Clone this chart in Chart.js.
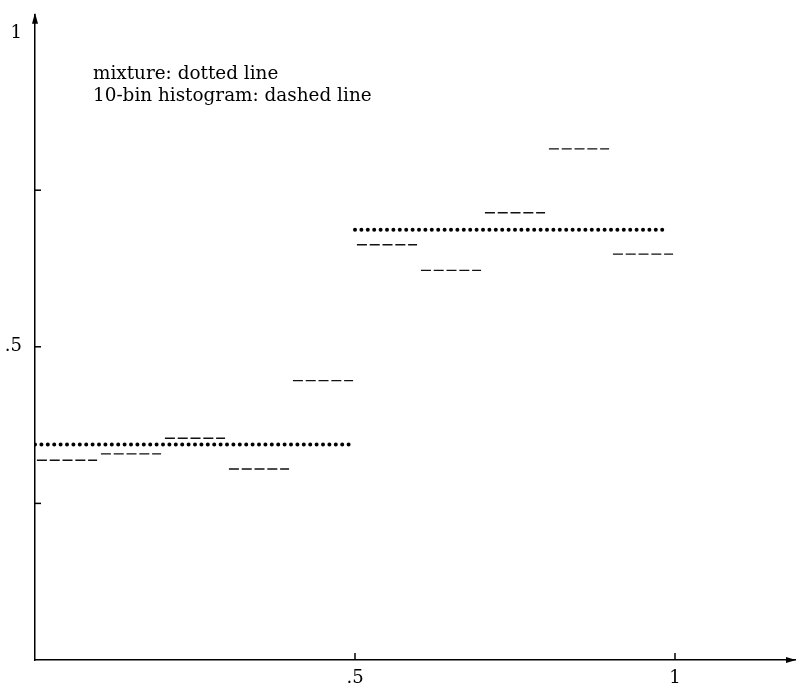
<!DOCTYPE html>
<html>
<head>
<meta charset="utf-8">
<script src="https://cdn.jsdelivr.net/npm/chart.js@4"></script>
<style>
  html, body { margin: 0; padding: 0; background: #fff; }
  #wrap { width: 797px; height: 688px; }
</style>
</head>
<body>
<div id="wrap"><canvas id="chart" width="797" height="688"></canvas></div>
<script>
// histogram bins (10 bins over 0..1) and their heights
const binEdges = [0, 0.1, 0.2, 0.3, 0.4, 0.5, 0.6, 0.7, 0.8, 0.9, 1.0];
const histValues = [0.319, 0.329, 0.354, 0.305, 0.446, 0.663, 0.622, 0.714, 0.816, 0.648];
// mixture density: two flat pieces [from, to, value]
const mixtureFrom = [0, 0.5];
const mixtureTo = [0.495, 0.985];
const mixtureValues = [0.344, 0.687];
const yTickValues = [0.25, 0.5, 0.75, 1];
const yTickLabels = { 0.5: '.5', 1: '1' };
const xTickValues = [0.5, 1];
const xTickLabels = { 0.5: '.5', 1: '1' };
const legendLines = ['mixture: dotted line', '10-bin histogram: dashed line'];

const FONT = '"DejaVu Serif", "Liberation Serif", serif';

const histData = [];
histValues.forEach((v, i) => {
  histData.push({ x: binEdges[i] + 0.003, y: v });
  histData.push({ x: binEdges[i + 1] - 0.003, y: v });
  histData.push({ x: binEdges[i + 1], y: null });
});

const mixData = [];
mixtureValues.forEach((v, i) => {
  mixData.push({ x: mixtureFrom[i], y: v });
  mixData.push({ x: mixtureTo[i], y: v });
  mixData.push({ x: mixtureTo[i] + 0.002, y: null });
});

const axisDecor = {
  id: 'axisDecor',
  afterDraw(chart) {
    const { ctx, chartArea, scales } = chart;
    const x0 = chartArea.left, y0 = chartArea.bottom;
    ctx.save();
    ctx.strokeStyle = '#000';
    ctx.fillStyle = '#000';
    ctx.lineWidth = 1.5;
    // tick marks inside the plot
    yTickValues.forEach(v => {
      if (v >= 1) return;
      const y = scales.y.getPixelForValue(v);
      ctx.beginPath();
      ctx.moveTo(x0, y);
      ctx.lineTo(x0 + 6, y);
      ctx.stroke();
    });
    xTickValues.forEach(v => {
      const x = scales.x.getPixelForValue(v);
      ctx.beginPath();
      ctx.moveTo(x, y0);
      ctx.lineTo(x, y0 - 7);
      ctx.stroke();
    });
    // arrow heads
    ctx.beginPath();
    ctx.moveTo(x0, chartArea.top - 2);
    ctx.lineTo(x0 - 3, chartArea.top + 9);
    ctx.lineTo(x0 + 3, chartArea.top + 9);
    ctx.closePath();
    ctx.fill();
    ctx.beginPath();
    ctx.moveTo(chartArea.right + 1, y0);
    ctx.lineTo(chartArea.right - 9, y0 - 3);
    ctx.lineTo(chartArea.right - 9, y0 + 3);
    ctx.closePath();
    ctx.fill();
    // legend text
    ctx.font = '18.4px ' + FONT;
    ctx.textBaseline = 'alphabetic';
    ctx.textAlign = 'left';
    legendLines.forEach((t, i) => ctx.fillText(t, 93, 79 + i * 22));
    ctx.restore();
  }
};

new Chart(document.getElementById('chart'), {
  type: 'line',
  data: {
    datasets: [
      {
        label: 'mixture',
        data: mixData,
        borderColor: '#000',
        borderWidth: 4,
        borderDash: [0, 6.4],
        borderCapStyle: 'round',
        pointRadius: 0,
        spanGaps: false,
        tension: 0,
      },
      {
        label: '10-bin histogram',
        data: histData,
        borderColor: '#111',
        borderWidth: 1.4,
        borderDash: [10, 2.8],
        pointRadius: 0,
        spanGaps: false,
        tension: 0,
      },
    ],
  },
  options: {
    responsive: false,
    animation: false,
    layout: { padding: { top: 11, right: 2, left: 0, bottom: 0 } },
    plugins: { legend: { display: false }, tooltip: { enabled: false } },
    scales: {
      x: {
        type: 'linear',
        min: 0,
        max: 1.1875,
        afterBuildTicks: s => { s.ticks = xTickValues.map(v => ({ value: v })); },
        afterFit: s => { s.height = 28; },
        grid: { display: false, drawTicks: false },
        border: { color: '#000', width: 1.5 },
        ticks: {
          padding: 17,
          maxRotation: 0,
          color: '#000',
          font: { family: FONT, size: 18, lineHeight: 0.2 },
          callback: v => xTickLabels[v] || '',
        },
      },
      y: {
        type: 'linear',
        min: 0,
        max: 1.03,
        afterBuildTicks: s => { s.ticks = yTickValues.map(v => ({ value: v })); },
        afterFit: s => { s.width = 35; },
        grid: { display: false, drawTicks: false },
        border: { color: '#000', width: 1.5 },
        ticks: {
          padding: 13,
          color: '#000',
          font: { family: FONT, size: 18, lineHeight: 0.2 },
          callback: v => yTickLabels[v] || '',
        },
      },
    },
  },
  plugins: [axisDecor],
});
</script>
</body>
</html>
